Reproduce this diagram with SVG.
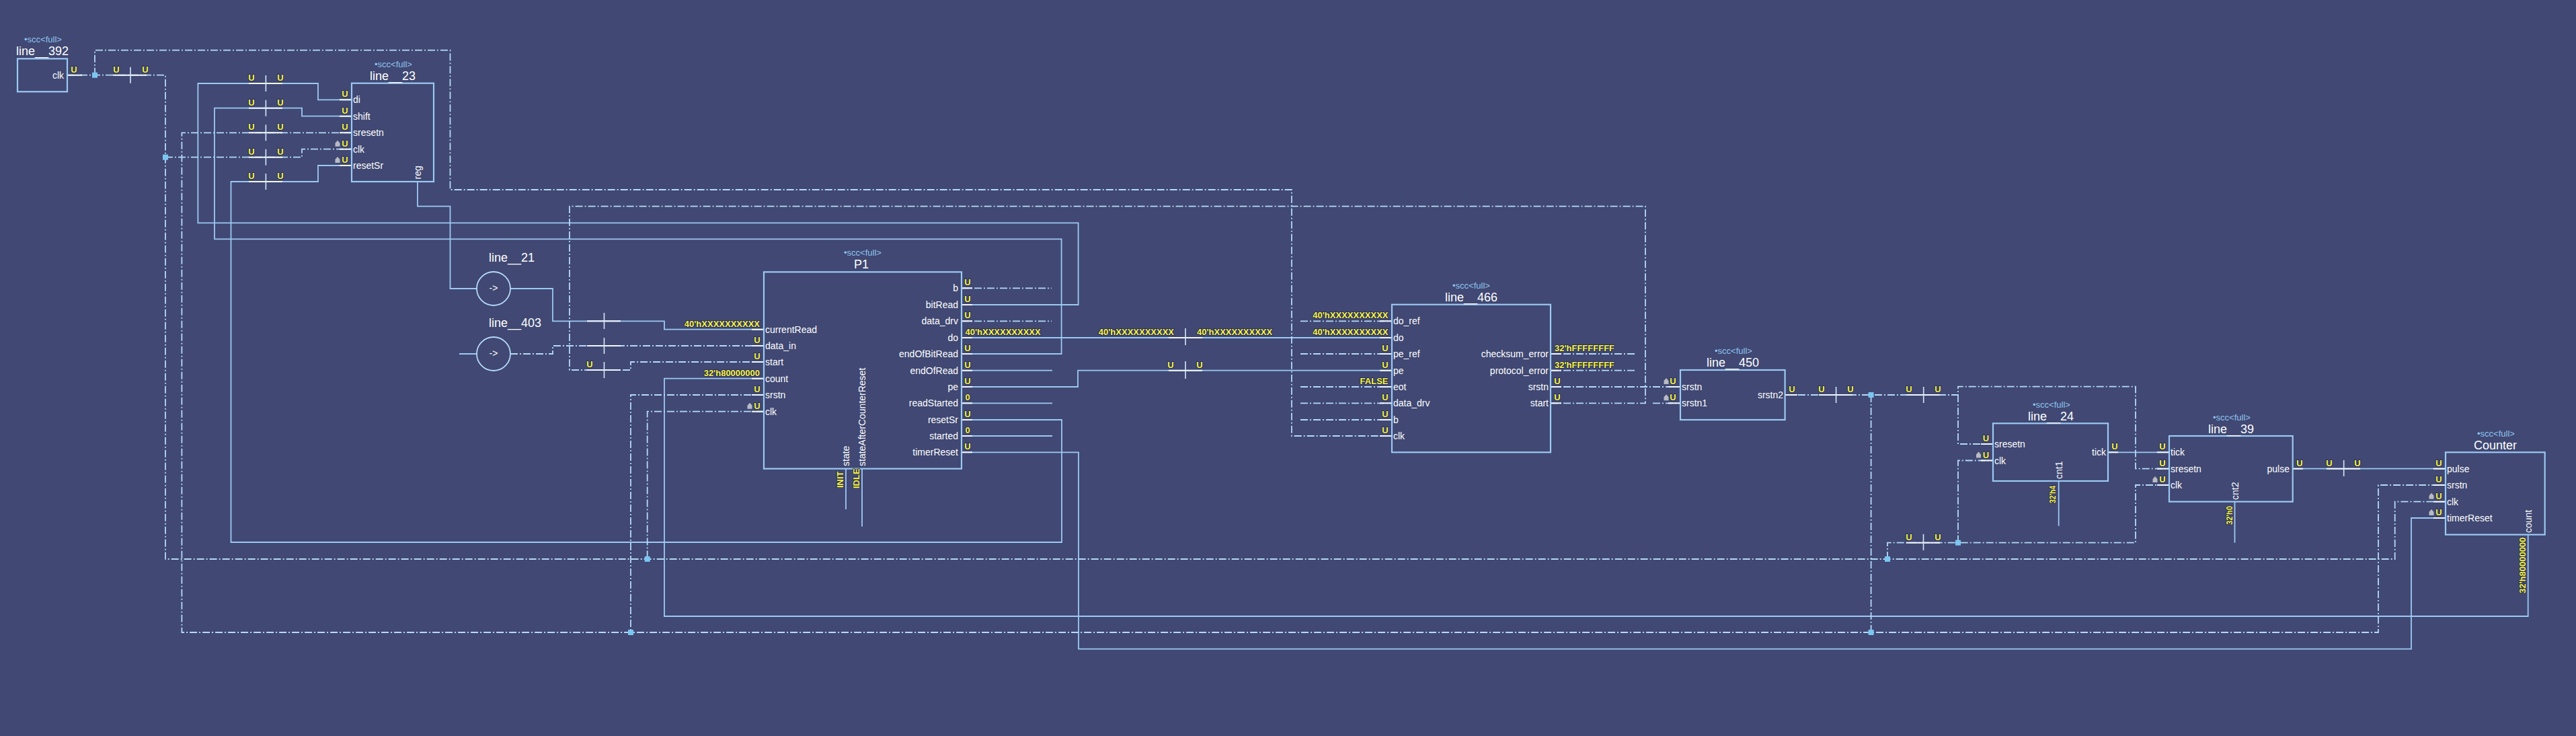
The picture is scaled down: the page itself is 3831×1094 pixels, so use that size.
<svg xmlns="http://www.w3.org/2000/svg" width="3831" height="1094" viewBox="0 0 3831 1094">
<style>
text{font-family:"Liberation Sans",Arial,sans-serif}
.w{fill:none;stroke:#9cc9f2;stroke-width:1.8}
.d{fill:none;stroke:#b6d9f7;stroke-width:1.8;stroke-dasharray:11 3 2 3}
.h{fill:none;stroke:#f2f8ff;stroke-width:2}
.t{fill:none;stroke:#d5e8f8;stroke-width:1.6}
.b{fill:none;stroke:#9cc9f2;stroke-width:2.2}
.j{fill:#7cc6f2}
.n{fill:#fff;font-size:18px;text-anchor:middle}
.nl{fill:#fff;font-size:18px}
.s{fill:#8fc4ee;font-size:13px;text-anchor:middle}
.p{fill:#fff;font-size:14px}
.r{fill:#fff;font-size:14px;text-anchor:end}
.y{fill:#f6f64a;font-size:13px;font-weight:bold;stroke:#26264a;stroke-width:1.6px;paint-order:stroke}
.u{text-anchor:middle}
.e{text-anchor:end}
</style>
<defs><polygon id="g" points="0,4 3.5,0 7,4 7,9 0,9" fill="#b9bac4"/></defs>
<rect width="3831" height="1094" fill="#404873"/>
<g id="connectors">
<path class="w" d="M1430 453H1603.6V331.3H294.4V124H473V148.3H523"/>
<path class="w" d="M1430 526H1578.6V355.3H319V160.7H449V172.7H523"/>
<path class="w" d="M1430 624H1579V806H343.5V270H473V246H523"/>
<path class="w" d="M621 270V306.7H669.5V429H709"/>
<path class="w" d="M759 429H822V477.3H988V489.7H1136"/>
<path class="w" d="M1430 502H2070"/>
<path class="w" d="M1430 575H1603V550.7H2070"/>
<path class="w" d="M1430 550.7H1565M1430 599.3H1565M1430 648H1565"/>
<path class="w" d="M1136 562.7H988V916H3759.7V794.7"/>
<path class="w" d="M1430 672.3H1604V964.7H3586V770H3637"/>
<path class="w" d="M3135 672.3H3226"/>
<path class="w" d="M3410 696.7H3637"/>
<path class="w" d="M3061.7 715V781.7M3323.5 745.7V806.7M1258 696.7V757M1282 696.7V782.7M683 526H709"/>
<path class="d" d="M100 111.7H246V831H3561.7V745.7H3637"/>
<path class="d" d="M141 111.7V74.7H669.5V282H1921V648H2070"/>
<path class="d" d="M246 233.7H449V221.7H523"/>
<path class="d" d="M523 197.3H270.4V940H3537V721H3637"/>
<path class="d" d="M2306 599.3H2447V306.7H847V550H938V538H1136"/>
<path class="d" d="M1136 587H938V940"/>
<path class="d" d="M1136 611.7H962.7V831"/>
<path class="d" d="M759 526H822V514H1136"/>
<path class="d" d="M1430 428.3H1564M1430 477.3H1564"/>
<path class="d" d="M1934 477.3H2070M1934 526H2070M1934 575H2070M1934 599.3H2070M1934 624H2070"/>
<path class="d" d="M2306 526H2434M2306 550.7H2434"/>
<path class="d" d="M2306 575H2499M2458 599.3H2499"/>
<path class="d" d="M2655 587H2912V574.7H3176V696.7H3226"/>
<path class="d" d="M2912 587V660H2964"/>
<path class="d" d="M2782.6 587V940"/>
<path class="d" d="M2807 831V806.7H3176V721H3226"/>
<path class="d" d="M2912 806.7V684.5H2964"/>
<path class="h" d="M100 111.7H122M168 111.7H218M505 148.3H523M505 172.7H523M505 197.3H523M505 221.7H523M505 246H523M370 124H420M370 160.7H420M370 197.3H420M370 233.7H420M370 270H420M1118 489.7H1136M1118 514H1136M1118 538H1136M1118 562.7H1136M1118 587H1136M1118 611.7H1136M1430 428.3H1446M1430 453H1446M1430 477.3H1446M1430 502H1446M1430 526H1446M1430 550.7H1446M1430 575H1446M1430 599.3H1446M1430 624H1446M1430 648H1446M1430 672.3H1446M873 477.3H923M873 514H923M873 550H923M1738 502H1788M1738 550.7H1788M2052 477.3H2070M2052 502H2070M2052 526H2070M2052 550.7H2070M2052 575H2070M2052 599.3H2070M2052 624H2070M2052 648H2070M2306 526H2322M2306 550.7H2322M2306 575H2322M2306 599.3H2322M2481 575H2499M2481 599.3H2499M2655 587H2673M2705 587H2755M2835 587H2885M2946 660H2964M2946 684.5H2964M3135 672.3H3150M3208 672.3H3226M3208 696.7H3226M3208 721H3226M3410 696.7H3425M3460 696.7H3510M3619 696.7H3637M3619 721H3637M3619 745.7H3637M3619 770H3637M2835 806.7H2885"/>
<path class="t" d="M194 99.7V123.7M395.4 112V136M395.4 148.7V172.7M395.4 185.3V209.3M395.4 221.7V245.7M395.4 258V282M898.5 465V489M898.5 502V526M898.5 538V562M1763 488V513M1763 537V563M2730.6 575V599M2860.7 575V599M3485.7 684V708M2860.5 794V818"/>
<g class="j">
<rect x="137" y="107.7" width="8" height="8"/><rect x="242" y="229.7" width="8" height="8"/><rect x="958.7" y="827" width="8" height="8"/><rect x="934" y="936" width="8" height="8"/><rect x="2778.6" y="583" width="8" height="8"/><rect x="2803" y="827" width="8" height="8"/><rect x="2908" y="802.7" width="8" height="8"/><rect x="2778.6" y="936" width="8" height="8"/>
</g>
<g class="y">
<text class="u" x="110" y="107.7">U</text><text class="u" x="173" y="107.7">U</text><text class="u" x="216" y="107.7">U</text>
<text class="u" x="374" y="120">U</text><text class="u" x="417" y="120">U</text>
<text class="u" x="374" y="156.7">U</text><text class="u" x="417" y="156.7">U</text>
<text class="u" x="374" y="193.3">U</text><text class="u" x="417" y="193.3">U</text>
<text class="u" x="374" y="229.7">U</text><text class="u" x="417" y="229.7">U</text>
<text class="u" x="374" y="266">U</text><text class="u" x="417" y="266">U</text>
<text class="u" x="877" y="546">U</text>
<text x="1780" y="498">40'hXXXXXXXXXX</text><text class="e" x="1746" y="498">40'hXXXXXXXXXX</text>
<text class="u" x="1741" y="546.7">U</text><text class="u" x="1784" y="546.7">U</text>
<text class="u" x="2709" y="583">U</text><text class="u" x="2752" y="583">U</text>
<text class="u" x="2839" y="583">U</text><text class="u" x="2882" y="583">U</text>
<text class="u" x="2839" y="802.7">U</text><text class="u" x="2882" y="802.7">U</text>
<text class="u" x="3464" y="692.7">U</text><text class="u" x="3506" y="692.7">U</text>
</g>
</g>
<g id="line__392">
<rect class="b" x="26" y="87.3" width="74" height="49"/>
<text class="s" x="64" y="63">•scc&lt;full&gt;</text><text class="n" x="63" y="82">line__392</text>
<text class="r" x="95" y="116.5">clk</text>
</g>
<g id="line__23">
<rect class="b" x="523" y="123.7" width="122" height="146.3"/>
<text class="s" x="585" y="100">•scc&lt;full&gt;</text><text class="n" x="584" y="119">line__23</text>
<text class="p" x="525" y="153.3">di</text><text class="p" x="525" y="177.7">shift</text><text class="p" x="525" y="202.3">sresetn</text><text class="p" x="525" y="226.7">clk</text><text class="p" x="525" y="251">resetSr</text>
<text class="p" transform="translate(626 266.5) rotate(-90)">reg</text>
<g class="y"><text class="u" x="513" y="144.3">U</text><text class="u" x="513" y="168.7">U</text><text class="u" x="513" y="193.3">U</text><text class="u" x="513" y="217.7">U</text><text class="u" x="513" y="242">U</text></g>
<use href="#g" x="498.5" y="208.7"/><use href="#g" x="498.5" y="233"/>
</g>
<g id="line__21">
<circle cx="734" cy="429" r="25" fill="none" stroke="#b6d9f7" stroke-width="1.8"/>
<text class="nl" x="727" y="389">line__21</text>
<text class="p" x="734" y="433" text-anchor="middle">-&gt;</text>
</g>
<g id="line__403">
<circle cx="734" cy="526" r="25" fill="none" stroke="#b6d9f7" stroke-width="1.8"/>
<text class="nl" x="727" y="486">line__403</text>
<text class="p" x="734" y="530" text-anchor="middle">-&gt;</text>
</g>
<g id="P1">
<rect class="b" x="1136" y="404.3" width="294" height="292.4"/>
<text class="s" x="1283" y="380">•scc&lt;full&gt;</text><text class="n" x="1281" y="399">P1</text>
<text class="p" x="1138" y="494.7">currentRead</text><text class="p" x="1138" y="519">data_in</text><text class="p" x="1138" y="543">start</text><text class="p" x="1138" y="567.7">count</text><text class="p" x="1138" y="592">srstn</text><text class="p" x="1138" y="616.7">clk</text>
<text class="r" x="1425" y="433.3">b</text><text class="r" x="1425" y="458">bitRead</text><text class="r" x="1425" y="482.3">data_drv</text><text class="r" x="1425" y="507">do</text><text class="r" x="1425" y="531">endOfBitRead</text><text class="r" x="1425" y="555.7">endOfRead</text><text class="r" x="1425" y="580">pe</text><text class="r" x="1425" y="604.3">readStarted</text><text class="r" x="1425" y="629">resetSr</text><text class="r" x="1425" y="653">started</text><text class="r" x="1425" y="677.3">timerReset</text>
<text class="p" transform="translate(1263 693) rotate(-90)">state</text>
<text class="p" transform="translate(1287 693) rotate(-90)">stateAfterCounterReset</text>
<g class="y">
<text class="e" x="1130" y="485.7">40'hXXXXXXXXXX</text><text class="u" x="1126" y="510">U</text><text class="u" x="1126" y="534">U</text><text class="e" x="1130" y="558.7">32'h80000000</text><text class="u" x="1126" y="583">U</text><text class="u" x="1126" y="607.7">U</text>
<text class="u" x="1439" y="424.3">U</text><text class="u" x="1439" y="449">U</text><text class="u" x="1439" y="473.3">U</text><text x="1435.5" y="498">40'hXXXXXXXXXX</text><text class="u" x="1439" y="522">U</text><text class="u" x="1439" y="546.7">U</text><text class="u" x="1439" y="571">U</text><text class="u" x="1439" y="595.3">0</text><text class="u" x="1439" y="620">U</text><text class="u" x="1439" y="644">0</text><text class="u" x="1439" y="668.3">U</text>
<text transform="translate(1254 725) rotate(-90)">INIT</text><text transform="translate(1278 726) rotate(-90)">IDLE</text>
</g>
<use href="#g" x="1111.5" y="598.7"/>
</g>
<g id="line__466">
<rect class="b" x="2070" y="452.7" width="236" height="219.6"/>
<text class="s" x="2188" y="429">•scc&lt;full&gt;</text><text class="n" x="2188" y="448">line__466</text>
<text class="p" x="2072" y="482.3">do_ref</text><text class="p" x="2072" y="507">do</text><text class="p" x="2072" y="531">pe_ref</text><text class="p" x="2072" y="555.7">pe</text><text class="p" x="2072" y="580">eot</text><text class="p" x="2072" y="604.3">data_drv</text><text class="p" x="2072" y="629">b</text><text class="p" x="2072" y="653">clk</text>
<text class="r" x="2303" y="531">checksum_error</text><text class="r" x="2303" y="555.7">protocol_error</text><text class="r" x="2303" y="580">srstn</text><text class="r" x="2303" y="604.3">start</text>
<g class="y">
<text class="e" x="2064.5" y="473.3">40'hXXXXXXXXXX</text><text class="e" x="2064.5" y="498">40'hXXXXXXXXXX</text><text class="u" x="2060" y="522">U</text><text class="u" x="2060" y="546.7">U</text><text class="e" x="2064.5" y="571">FALSE</text><text class="u" x="2060" y="595.3">U</text><text class="u" x="2060" y="620">U</text><text class="u" x="2060" y="644">U</text>
<text x="2312" y="522">32'hFFFFFFFF</text><text x="2312" y="546.7">32'hFFFFFFFF</text><text class="u" x="2316" y="571">U</text><text class="u" x="2316" y="595.3">U</text>
</g>
</g>
<g id="line__450">
<rect class="b" x="2499" y="550" width="155.6" height="74"/>
<text class="s" x="2578" y="526">•scc&lt;full&gt;</text><text class="n" x="2577" y="545">line__450</text>
<text class="p" x="2501" y="580">srstn</text><text class="p" x="2501" y="604.3">srstn1</text><text class="r" x="2652" y="592">srstn2</text>
<g class="y"><text class="u" x="2488" y="571">U</text><text class="u" x="2488" y="595.3">U</text><text class="u" x="2665" y="583">U</text></g>
<use href="#g" x="2474.5" y="562"/><use href="#g" x="2474.5" y="586.3"/>
</g>
<g id="line__24">
<rect class="b" x="2964" y="629.3" width="171" height="85.7"/>
<text class="s" x="3051" y="606">•scc&lt;full&gt;</text><text class="n" x="3050" y="625">line__24</text>
<text class="p" x="2966" y="665">sresetn</text><text class="p" x="2966" y="689.5">clk</text><text class="r" x="3132" y="677.3">tick</text>
<text class="p" transform="translate(3066.7 712) rotate(-90)">cnt1</text>
<g class="y"><text class="u" x="2953.5" y="656">U</text><text class="u" x="2953.5" y="680.5">U</text><text class="u" x="3145" y="668.3">U</text>
<text transform="translate(3056.5 748) rotate(-90)" textLength="26" lengthAdjust="spacingAndGlyphs">32'h4</text></g>
<use href="#g" x="2939" y="671.5"/>
</g>
<g id="line__39">
<rect class="b" x="3226" y="648" width="183.7" height="97.7"/>
<text class="s" x="3319" y="625">•scc&lt;full&gt;</text><text class="n" x="3318" y="644">line__39</text>
<text class="p" x="3228" y="677.3">tick</text><text class="p" x="3228" y="701.7">sresetn</text><text class="p" x="3228" y="726">clk</text><text class="r" x="3405" y="701.7">pulse</text>
<text class="p" transform="translate(3328.5 743) rotate(-90)">cnt2</text>
<g class="y"><text class="u" x="3216" y="668.3">U</text><text class="u" x="3216" y="692.7">U</text><text class="u" x="3216" y="717">U</text><text class="u" x="3420" y="692.7">U</text>
<text transform="translate(3319.5 780) rotate(-90)" textLength="28" lengthAdjust="spacingAndGlyphs">32'h0</text></g>
<use href="#g" x="3201.5" y="708"/>
</g>
<g id="Counter">
<rect class="b" x="3637" y="672.3" width="147.7" height="122.4"/>
<text class="s" x="3712" y="649">•scc&lt;full&gt;</text><text class="n" x="3711" y="668">Counter</text>
<text class="p" x="3639" y="701.7">pulse</text><text class="p" x="3639" y="726">srstn</text><text class="p" x="3639" y="750.7">clk</text><text class="p" x="3639" y="775">timerReset</text>
<text class="p" transform="translate(3764.7 792) rotate(-90)">count</text>
<g class="y"><text class="u" x="3627" y="692.7">U</text><text class="u" x="3627" y="717">U</text><text class="u" x="3627" y="741.7">U</text><text class="u" x="3627" y="766">U</text>
<text transform="translate(3755.5 882) rotate(-90)">32'h80000000</text></g>
<use href="#g" x="3612.5" y="732.7"/><use href="#g" x="3612.5" y="757"/>
</g>
</svg>
